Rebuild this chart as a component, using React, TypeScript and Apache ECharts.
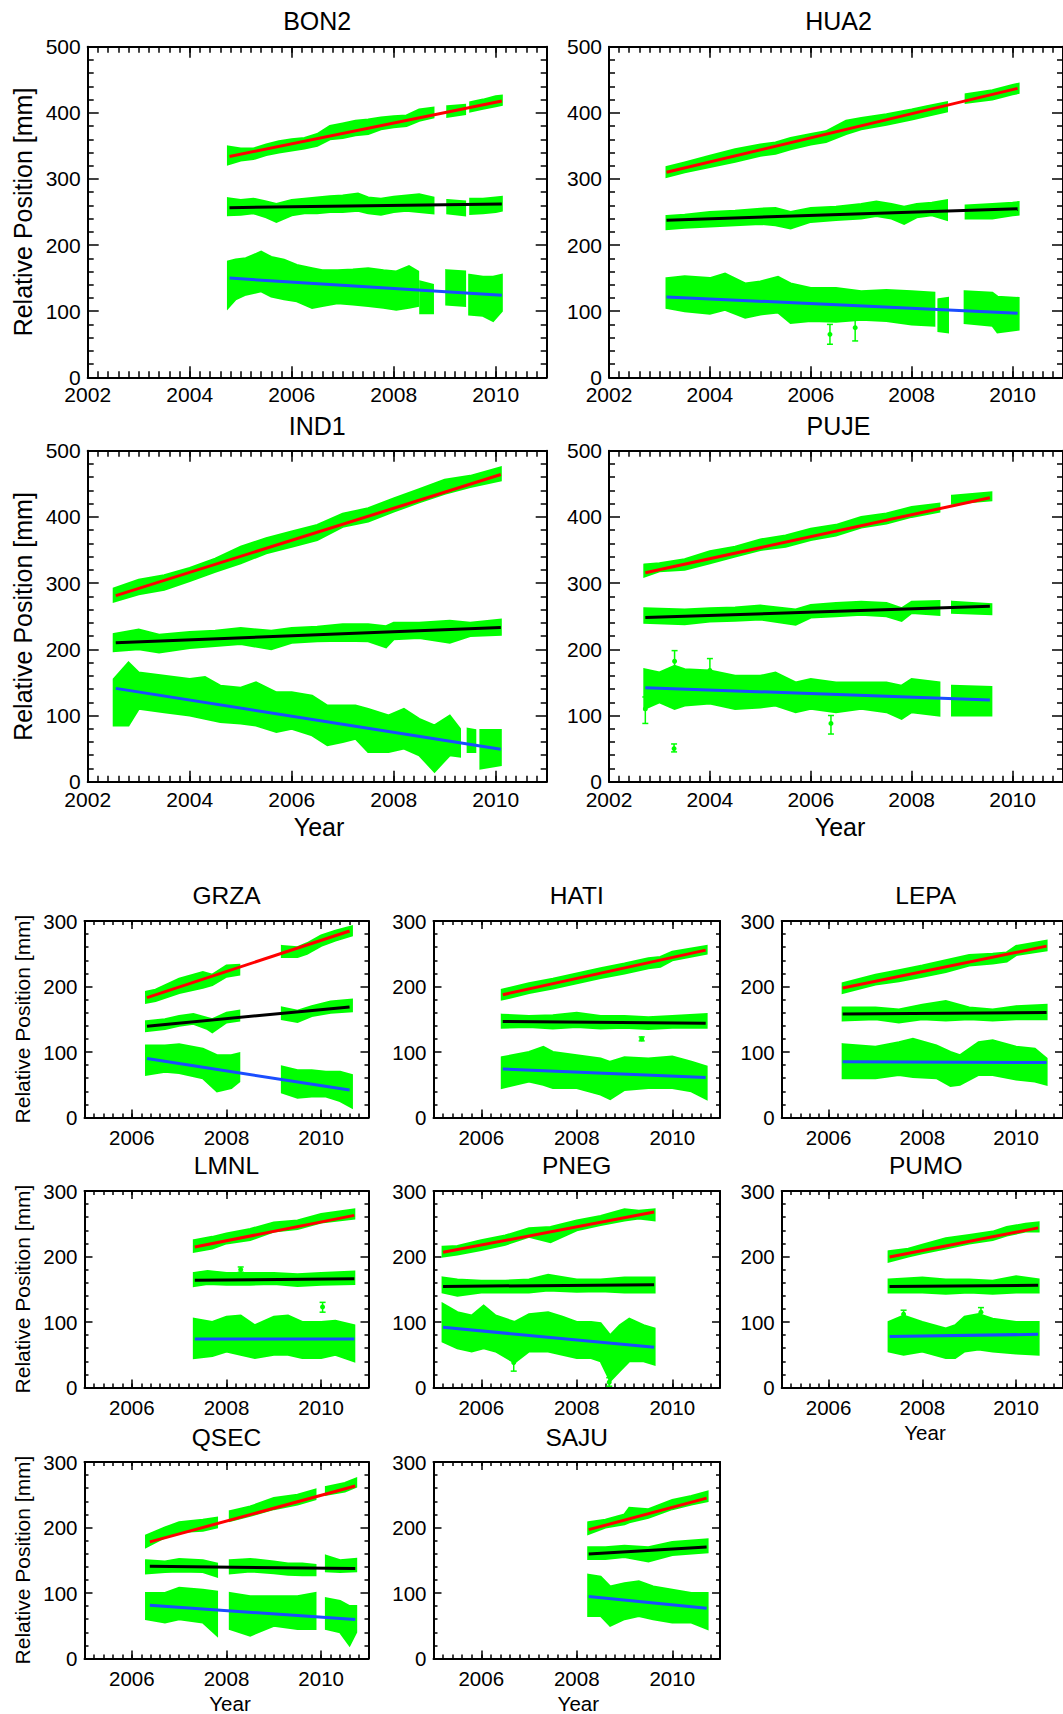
import React, { useEffect, useRef } from 'react';
import * as echarts from 'echarts';

type Tri = number[] | null;

// ---------- DATA ----------
// band samples: [year, lower, upper]; null = gap in the record
const BON2_RED: Tri[] = [[2004.75,322,349],[2005.0,328,346],[2005.25,330,346],[2005.5,336,352],[2005.75,340,357],[2006.0,343,360],[2006.25,346,362],[2006.5,350,368],[2006.75,360,380],[2007.0,362,384],[2007.25,366,388],[2007.5,368,390],[2007.75,375,393],[2008.0,378,395],[2008.25,380,396],[2008.5,388,405],[2008.78,393,408],null,[2009.05,394,410],[2009.4,398,412],null,[2009.5,402,416],[2009.75,406,420],[2010.0,410,425],[2010.12,412,426]];
const BON2_BLACK: Tri[] = [[2004.75,245,271],[2005.0,246,268],[2005.25,248,270],[2005.5,242,266],[2005.7,235,262],[2006.0,245,268],[2006.25,248,270],[2006.5,248,272],[2006.75,250,274],[2007.0,250,275],[2007.3,252,278],[2007.5,248,272],[2007.75,246,270],[2008.0,250,273],[2008.25,252,275],[2008.5,250,277],[2008.78,248,272],null,[2009.05,248,268],[2009.4,245,266],null,[2009.5,247,270],[2009.75,248,270],[2010.0,250,272],[2010.12,252,273]];
const BON2_BLUE: Tri[] = [[2004.75,105,175],[2004.9,118,178],[2005.1,125,180],[2005.4,130,190],[2005.6,122,182],[2005.85,118,178],[2006.1,115,170],[2006.4,105,165],[2006.6,108,162],[2006.9,112,162],[2007.2,110,163],[2007.5,108,165],[2007.8,105,162],[2008.05,102,160],[2008.3,105,168],[2008.48,108,160],null,[2008.52,97,145],[2008.77,97,140],null,[2009.03,110,162],[2009.4,108,160],null,[2009.48,95,155],[2009.75,93,152],[2009.95,85,152],[2010.12,100,155]];

const HUA2_RED: Tri[] = [[2003.14,303,318],[2003.5,310,325],[2004.0,318,335],[2004.5,326,345],[2005.0,335,352],[2005.3,338,355],[2005.6,345,362],[2006.0,352,368],[2006.3,356,372],[2006.7,368,388],[2007.0,375,392],[2007.5,382,398],[2008.0,390,405],[2008.3,395,410],[2008.7,402,416],null,[2009.07,415,428],[2009.6,420,434],[2010.0,428,442],[2010.12,430,444]];
const HUA2_BLACK: Tri[] = [[2003.14,224,244],[2003.5,226,246],[2004.0,228,250],[2004.5,230,252],[2005.0,232,255],[2005.3,230,256],[2005.6,225,250],[2006.0,235,256],[2006.5,238,258],[2007.0,240,262],[2007.3,244,266],[2007.6,240,262],[2007.85,232,258],[2008.1,242,262],[2008.4,245,264],[2008.7,238,268],null,[2009.07,240,260],[2009.6,240,262],[2010.0,245,264],[2010.12,246,265]];
const HUA2_BLUE: Tri[] = [[2003.14,105,150],[2003.5,100,153],[2004.0,96,150],[2004.3,102,157],[2004.7,90,142],[2005.0,95,145],[2005.35,98,152],[2005.6,82,142],[2006.0,85,135],[2006.5,84,135],[2007.0,87,130],[2007.5,85,132],[2008.0,80,130],[2008.45,78,128],null,[2008.53,70,118],[2008.72,68,120],null,[2009.05,82,130],[2009.6,78,128],[2009.7,68,122],[2010.12,72,120]];

const IND1_RED: Tri[] = [[2002.51,272,292],[2003.0,283,305],[2003.5,290,312],[2004.0,303,323],[2004.5,317,337],[2005.0,330,355],[2005.5,345,368],[2006.0,355,378],[2006.5,365,388],[2007.0,385,405],[2007.5,393,413],[2008.0,408,428],[2008.5,422,442],[2009.0,435,456],[2009.5,445,462],[2010.1,455,475]];
const IND1_BLACK: Tri[] = [[2002.51,197,223],[2003.0,200,230],[2003.4,195,222],[2004.0,202,226],[2004.5,205,228],[2005.0,208,232],[2005.6,200,228],[2006.0,210,232],[2006.5,212,234],[2007.0,213,238],[2007.5,212,238],[2007.85,203,235],[2008.0,215,240],[2008.5,217,240],[2009.1,210,243],[2009.5,220,240],[2010.1,222,245]];
const IND1_BLUE: Tri[] = [[2002.51,85,155],[2002.8,85,180],[2003.0,110,165],[2003.5,105,160],[2004.0,100,155],[2004.3,95,158],[2004.6,90,145],[2005.0,88,142],[2005.3,85,150],[2005.7,75,135],[2006.0,80,135],[2006.4,70,130],[2006.7,55,115],[2007.0,60,115],[2007.25,65,115],[2007.5,45,110],[2007.9,45,100],[2008.2,50,110],[2008.5,40,95],[2008.8,15,85],[2009.1,40,100],[2009.3,38,80],null,[2009.45,45,80],[2009.6,45,78],null,[2009.7,20,78],[2010.1,25,78]];

const PUJE_RED: Tri[] = [[2002.7,310,328],[2003.0,318,330],[2003.5,320,336],[2004.0,330,348],[2004.5,340,355],[2005.0,350,366],[2005.5,355,372],[2006.0,365,382],[2006.5,372,388],[2007.0,384,400],[2007.5,390,405],[2008.0,400,415],[2008.55,408,420],null,[2008.8,420,432],[2009.58,425,437]];
const PUJE_BLACK: Tri[] = [[2002.7,240,262],[2003.5,238,260],[2004.0,242,262],[2004.5,243,263],[2005.0,245,266],[2005.7,237,260],[2006.0,248,267],[2006.5,250,270],[2007.0,252,272],[2007.5,250,270],[2007.8,243,262],[2008.0,255,272],[2008.55,252,273],null,[2008.8,255,272],[2009.58,253,268]];
const PUJE_BLUE: Tri[] = [[2002.7,110,170],[2003.0,120,165],[2003.3,110,175],[2003.5,115,170],[2004.0,118,168],[2004.5,110,160],[2005.0,112,160],[2005.3,115,165],[2005.7,105,150],[2006.0,110,155],[2006.5,105,150],[2007.0,110,150],[2007.5,105,150],[2007.8,95,145],[2008.0,105,155],[2008.55,100,150],null,[2008.8,100,145],[2009.58,100,143]];

const GRZA_RED: Tri[] = [[2006.3,175,192],[2006.5,178,195],[2007.0,190,212],[2007.5,198,222],[2007.7,202,218],[2008.0,215,232],[2008.27,218,233],null,[2009.17,245,262],[2009.5,245,260],[2009.7,250,266],[2010.0,262,278],[2010.3,270,285],[2010.65,278,292]];
const GRZA_BLACK: Tri[] = [[2006.3,132,147],[2006.7,135,150],[2007.0,140,155],[2007.3,143,158],[2007.6,135,152],[2007.7,130,150],[2008.0,145,160],[2008.27,148,163],null,[2009.17,150,168],[2009.5,146,163],[2009.8,155,170],[2010.2,160,177],[2010.65,162,180]];
const GRZA_BLUE: Tri[] = [[2006.3,65,110],[2006.7,70,110],[2007.0,68,112],[2007.5,60,105],[2007.8,40,95],[2008.1,45,95],[2008.27,55,98],null,[2009.17,38,78],[2009.5,30,72],[2009.8,32,72],[2010.1,32,70],[2010.4,25,70],[2010.65,15,65]];

const HATI_RED: Tri[] = [[2006.43,180,195],[2007.0,190,205],[2007.5,197,212],[2008.0,205,220],[2008.5,213,228],[2009.0,220,235],[2009.5,228,243],[2009.75,230,245],[2010.0,240,253],[2010.72,250,262]];
const HATI_BLACK: Tri[] = [[2006.43,137,157],[2007.0,138,155],[2007.5,136,156],[2008.0,138,160],[2008.5,136,155],[2009.0,137,155],[2009.5,135,153],[2010.0,137,155],[2010.72,137,158]];
const HATI_BLUE: Tri[] = [[2006.43,45,92],[2007.0,55,100],[2007.3,50,108],[2007.5,45,100],[2008.0,45,95],[2008.5,35,90],[2008.7,28,85],[2009.0,42,92],[2009.5,45,90],[2010.0,45,93],[2010.4,40,85],[2010.72,28,78]];

const LEPA_RED: Tri[] = [[2006.3,190,205],[2007.0,203,218],[2007.5,208,225],[2008.0,215,232],[2008.5,222,240],[2009.0,232,248],[2009.5,235,250],[2009.8,238,252],[2010.0,248,262],[2010.65,255,270]];
const LEPA_BLACK: Tri[] = [[2006.3,148,168],[2007.0,150,168],[2007.5,145,165],[2008.0,150,172],[2008.5,148,178],[2009.0,150,168],[2009.5,148,165],[2010.0,150,170],[2010.65,150,172]];
const LEPA_BLUE: Tri[] = [[2006.3,60,112],[2007.0,60,108],[2007.5,65,115],[2007.8,62,120],[2008.3,60,110],[2008.6,48,100],[2008.8,50,95],[2009.2,65,115],[2009.5,65,118],[2010.0,58,108],[2010.4,55,105],[2010.65,50,90]];

const LMNL_RED: Tri[] = [[2007.31,207,225],[2007.7,212,230],[2008.0,220,235],[2008.5,225,242],[2009.0,238,252],[2009.5,242,255],[2010.0,252,265],[2010.7,258,272]];
const LMNL_BLACK: Tri[] = [[2007.31,155,175],[2007.6,158,178],[2008.0,157,175],[2008.5,157,175],[2009.0,158,175],[2009.5,155,173],[2010.0,157,175],[2010.7,158,177]];
const LMNL_BLUE: Tri[] = [[2007.31,45,105],[2007.7,48,100],[2008.0,55,108],[2008.3,50,110],[2008.6,45,95],[2009.0,50,108],[2009.3,50,110],[2009.6,45,100],[2010.0,45,100],[2010.3,50,102],[2010.7,40,95]];

const PNEG_RED: Tri[] = [[2005.19,200,215],[2005.5,203,216],[2006.0,210,225],[2006.5,218,232],[2007.0,230,243],[2007.45,222,245],[2008.0,240,255],[2008.5,248,262],[2009.0,255,272],[2009.3,258,270],[2009.63,255,272]];
const PNEG_BLACK: Tri[] = [[2005.19,145,168],[2005.5,140,165],[2006.0,145,163],[2006.5,145,163],[2007.0,145,165],[2007.4,148,172],[2008.0,146,165],[2008.5,147,165],[2009.0,145,168],[2009.63,145,168]];
const PNEG_BLUE: Tri[] = [[2005.19,70,128],[2005.5,60,115],[2005.8,55,110],[2006.05,60,125],[2006.3,55,110],[2006.7,38,100],[2007.0,55,112],[2007.4,55,115],[2007.7,50,108],[2008.0,45,100],[2008.3,45,100],[2008.5,40,98],[2008.7,10,80],[2008.9,25,95],[2009.1,40,105],[2009.4,40,95],[2009.63,35,90]];

const PUMO_RED: Tri[] = [[2007.28,192,208],[2007.7,200,212],[2008.0,205,218],[2008.5,212,228],[2009.0,220,233],[2009.5,225,238],[2009.8,232,245],[2010.2,238,250],[2010.48,238,252]];
const PUMO_BLACK: Tri[] = [[2007.28,145,165],[2008.0,145,168],[2008.5,143,165],[2009.0,145,165],[2009.5,143,163],[2010.0,145,170],[2010.48,145,165]];
const PUMO_BLUE: Tri[] = [[2007.28,55,100],[2007.6,50,110],[2008.0,55,100],[2008.5,45,90],[2008.7,45,95],[2008.9,55,108],[2009.2,58,112],[2009.5,55,105],[2010.0,52,100],[2010.48,50,100]];

const QSEC_RED: Tri[] = [[2006.3,170,188],[2006.7,185,200],[2007.0,193,208],[2007.5,195,212],[2007.8,200,215],null,[2008.07,210,225],[2008.5,218,232],[2009.0,228,245],[2009.5,235,250],[2009.88,243,258],null,[2010.1,250,262],[2010.5,255,268],[2010.74,262,275]];
const QSEC_BLACK: Tri[] = [[2006.3,130,150],[2006.7,132,148],[2007.0,133,152],[2007.5,132,150],[2007.8,125,145],null,[2008.07,130,150],[2008.5,133,152],[2009.0,130,148],[2009.3,128,145],[2009.6,127,145],[2009.88,127,143],null,[2010.1,133,157],[2010.4,132,150],[2010.74,133,152]];
const QSEC_BLUE: Tri[] = [[2006.3,60,100],[2006.7,55,100],[2007.0,60,108],[2007.5,55,105],[2007.8,35,102],null,[2008.07,45,100],[2008.5,35,95],[2009.0,50,95],[2009.5,45,95],[2009.88,45,100],null,[2010.1,45,92],[2010.4,40,88],[2010.6,20,80],[2010.74,40,80]];

const SAJU_RED: Tri[] = [[2008.24,190,208],[2008.6,200,212],[2009.0,205,220],[2009.1,208,230],[2009.5,215,228],[2010.0,228,242],[2010.4,235,248],[2010.74,240,255]];
const SAJU_BLACK: Tri[] = [[2008.24,152,170],[2008.6,152,170],[2009.0,155,172],[2009.5,148,170],[2010.0,158,178],[2010.74,162,182]];
const SAJU_BLUE: Tri[] = [[2008.24,65,128],[2008.5,65,125],[2008.7,50,110],[2009.0,60,115],[2009.3,65,118],[2009.6,60,110],[2010.0,55,105],[2010.4,55,100],[2010.74,45,100]];

// isolated points with error bars: [year, value, lower, upper]
const HUA2_OUT = [[2006.38,65,50,80],[2006.88,75,55,90]];
const PUJE_OUT = [[2003.29,50,45,57],[2006.4,88,72,100],[2002.72,110,88,128],[2003.3,182,168,198],[2004.0,168,150,186]];
const HATI_OUT = [[2009.36,120,117,123]];
const LMNL_OUT = [[2010.03,123,115,130],[2008.3,180,176,184]];
const PNEG_OUT = [[2006.68,38,25,50],[2008.68,8,2,15]];
const PUMO_OUT = [[2007.6,112,105,118],[2009.25,115,108,122]];

// linear trends: [[startYear, startValue], [endYear, endValue]] for red, black, blue
const BON2_TREND = [[[2004.78,334],[2010.12,418]],[[2004.78,256.5],[2010.12,262]],[[2004.78,150],[2010.12,124]]];
const HUA2_TREND = [[[2003.14,310],[2010.1,437]],[[2003.14,237.5],[2010.1,255]],[[2003.14,121.5],[2010.1,97]]];
const IND1_TREND = [[[2002.55,281],[2010.1,464]],[[2002.55,210],[2010.1,233]],[[2002.55,141],[2010.1,49]]];
const PUJE_TREND = [[[2002.72,315.7],[2009.55,429]],[[2002.72,248],[2009.55,265]],[[2002.72,142],[2009.55,123.5]]];
const GRZA_TREND = [[[2006.32,183],[2010.6,284.7]],[[2006.32,139.3],[2010.6,168.8]],[[2006.32,90],[2010.6,42]]];
const HATI_TREND = [[[2006.45,187.5],[2010.7,255.5]],[[2006.45,146.7],[2010.7,144]],[[2006.45,74],[2010.7,61]]];
const LEPA_TREND = [[[2006.3,197.8],[2010.65,261.6]],[[2006.3,158],[2010.65,160.4]],[[2006.3,85.3],[2010.65,83.8]]];
const LMNL_TREND = [[[2007.33,214.5],[2010.7,262.8]],[[2007.33,163.7],[2010.7,166.2]],[[2007.33,74.2],[2010.7,74.2]]];
const PNEG_TREND = [[[2005.2,206.4],[2009.62,267.8]],[[2005.2,154.3],[2009.62,157]],[[2005.2,92],[2009.62,61.3]]];
const PUMO_TREND = [[[2007.3,199.3],[2010.47,243.7]],[[2007.3,154.3],[2010.47,156]],[[2007.3,77.7],[2010.47,81.2]]];
const QSEC_TREND = [[[2006.38,178],[2010.72,263.3]],[[2006.38,140.8],[2010.72,137.3]],[[2006.38,81.3],[2010.72,59.5]]];
const SAJU_TREND = [[[2008.25,196.7],[2010.72,244.8]],[[2008.25,159.4],[2010.72,170.2]],[[2008.25,94.5],[2010.72,76.6]]];

const TOP_X_LABELS = [2002, 2004, 2006, 2008, 2010];
const BOTTOM_X_LABELS = [2006, 2008, 2010];

const STATIONS = [
  { name: 'BON2', bands: [BON2_RED, BON2_BLACK, BON2_BLUE], trend: BON2_TREND, out: [] as number[][] },
  { name: 'HUA2', bands: [HUA2_RED, HUA2_BLACK, HUA2_BLUE], trend: HUA2_TREND, out: HUA2_OUT },
  { name: 'IND1', bands: [IND1_RED, IND1_BLACK, IND1_BLUE], trend: IND1_TREND, out: [] as number[][] },
  { name: 'PUJE', bands: [PUJE_RED, PUJE_BLACK, PUJE_BLUE], trend: PUJE_TREND, out: PUJE_OUT },
  { name: 'GRZA', bands: [GRZA_RED, GRZA_BLACK, GRZA_BLUE], trend: GRZA_TREND, out: [] as number[][] },
  { name: 'HATI', bands: [HATI_RED, HATI_BLACK, HATI_BLUE], trend: HATI_TREND, out: HATI_OUT },
  { name: 'LEPA', bands: [LEPA_RED, LEPA_BLACK, LEPA_BLUE], trend: LEPA_TREND, out: [] as number[][] },
  { name: 'LMNL', bands: [LMNL_RED, LMNL_BLACK, LMNL_BLUE], trend: LMNL_TREND, out: LMNL_OUT },
  { name: 'PNEG', bands: [PNEG_RED, PNEG_BLACK, PNEG_BLUE], trend: PNEG_TREND, out: PNEG_OUT },
  { name: 'PUMO', bands: [PUMO_RED, PUMO_BLACK, PUMO_BLUE], trend: PUMO_TREND, out: PUMO_OUT },
  { name: 'QSEC', bands: [QSEC_RED, QSEC_BLACK, QSEC_BLUE], trend: QSEC_TREND, out: [] as number[][] },
  { name: 'SAJU', bands: [SAJU_RED, SAJU_BLACK, SAJU_BLUE], trend: SAJU_TREND, out: [] as number[][] },
];

// ---------- LAYOUT ----------
const TOP = { xMin: 2002, xMax: 2011, yMax: 500, yMinor: 5, major: 11, minor: 6, font: 21, tf: 25, lm: 7 };
const BOT = { xMin: 2005, xMax: 2011, yMax: 300, yMinor: 5, major: 8, minor: 4, font: 20.5, tf: 24.5, lm: 9 };
const LAYOUT = [
  { ...TOP, left: 87.7, top: 46.7, width: 459, height: 330.6, tx: 317.2, ty: 20.5 },
  { ...TOP, left: 609, top: 46.7, width: 459, height: 330.6, tx: 838.5, ty: 20.5 },
  { ...TOP, left: 87.7, top: 450.7, width: 459, height: 331, tx: 317.2, ty: 425.5 },
  { ...TOP, left: 609, top: 450.7, width: 459, height: 331, tx: 838.5, ty: 425.5 },
  { ...BOT, left: 84.5, top: 921, width: 284, height: 196.5, tx: 226.5, ty: 895.5 },
  { ...BOT, left: 433.5, top: 921, width: 286.5, height: 196.5, tx: 576.7, ty: 895.5 },
  { ...BOT, left: 781.7, top: 921, width: 288, height: 196.5, tx: 925.7, ty: 895.5 },
  { ...BOT, left: 84.5, top: 1191, width: 284, height: 196.5, tx: 226.5, ty: 1165.5 },
  { ...BOT, left: 433.5, top: 1191, width: 286.5, height: 196.5, tx: 576.7, ty: 1165.5 },
  { ...BOT, left: 781.7, top: 1191, width: 288, height: 196.5, tx: 925.7, ty: 1165.5 },
  { ...BOT, left: 84.5, top: 1462, width: 284, height: 196.5, tx: 226.5, ty: 1437 },
  { ...BOT, left: 433.5, top: 1462, width: 286.5, height: 196.5, tx: 576.7, ty: 1437 },
];
const YEAR_LABELS = [
  { x: 319, y: 827, size: 25 },
  { x: 840, y: 827, size: 25 },
  { x: 925, y: 1432, size: 20.5 },
  { x: 230, y: 1703, size: 20.5 },
  { x: 578.3, y: 1703, size: 20.5 },
];
const YNAME_LABELS = [
  { x: 22.8, y: 212, size: 25 },
  { x: 22.8, y: 616.5, size: 25 },
  { x: 22.5, y: 1019, size: 21 },
  { x: 22.5, y: 1289, size: 21 },
  { x: 22.5, y: 1560, size: 21 },
];

const FONT = "'Liberation Sans', Arial, Helvetica, sans-serif";
const GREEN = '#00ff00';
const TREND_COLORS = ['#ff0000', '#000000', '#1a4dff'];

function bandSeries(pts: Tri[], xi: number, yi: number) {
  const segs: number[][][] = [];
  let cur: number[][] = [];
  pts.forEach((p) => {
    if (p == null) { if (cur.length) segs.push(cur); cur = []; }
    else cur.push(p);
  });
  if (cur.length) segs.push(cur);
  return {
    type: 'custom', xAxisIndex: xi, yAxisIndex: yi, silent: true, z: 2,
    data: segs.map((s) => [s[0][0], s[0][1]]),
    encode: { x: 0, y: 1 },
    renderItem: (params: any, api: any) => {
      const s = segs[params.dataIndex];
      const up = s.map((p) => api.coord([p[0], p[2]]));
      const lo = s.map((p) => api.coord([p[0], p[1]])).reverse();
      return { type: 'polygon', shape: { points: up.concat(lo) }, style: { fill: GREEN, stroke: GREEN, lineWidth: 2 } };
    },
  };
}

function outlierSeries(outs: number[][], xi: number, yi: number) {
  return {
    type: 'custom', xAxisIndex: xi, yAxisIndex: yi, silent: true, z: 3,
    data: outs.map((o) => [o[0], o[1]]),
    encode: { x: 0, y: 1 },
    renderItem: (params: any, api: any) => {
      const o = outs[params.dataIndex];
      const c = api.coord([o[0], o[1]]);
      const a = api.coord([o[0], o[2]]);
      const b = api.coord([o[0], o[3]]);
      const st = { stroke: GREEN, lineWidth: 1.5 };
      return {
        type: 'group',
        children: [
          { type: 'line', shape: { x1: a[0], y1: a[1], x2: b[0], y2: b[1] }, style: st },
          { type: 'line', shape: { x1: a[0] - 3, y1: a[1], x2: a[0] + 3, y2: a[1] }, style: st },
          { type: 'line', shape: { x1: b[0] - 3, y1: b[1], x2: b[0] + 3, y2: b[1] }, style: st },
          { type: 'circle', shape: { cx: c[0], cy: c[1], r: 2.5 }, style: { fill: GREEN } },
        ],
      };
    },
  };
}

function buildOption() {
  const grid: any[] = [];
  const xAxis: any[] = [];
  const yAxis: any[] = [];
  const series: any[] = [];
  const graphic: any[] = [];
  const axisLine = { show: true, onZero: false, lineStyle: { color: '#000', width: 2 } };
  const tickLine = { color: '#000', width: 1.5 };
  const plain = (v: number) => String(Math.round(v));

  STATIONS.forEach((st, i) => {
    const L = LAYOUT[i];
    grid.push({ left: L.left, top: L.top, width: L.width, height: L.height });
    const majors = L.yMax === 500 ? TOP_X_LABELS : BOTTOM_X_LABELS;
    const xMain = xAxis.length;
    ['bottom', 'top'].forEach((pos) => {
      xAxis.push({
        gridIndex: i, type: 'value', position: pos, min: L.xMin, max: L.xMax,
        axisLine,
        axisTick: { show: true, inside: true, length: L.major, customValues: majors, lineStyle: tickLine },
        axisLabel: { show: pos === 'bottom', customValues: majors, formatter: plain, fontSize: L.font, fontFamily: FONT, color: '#000', margin: L.lm },
        splitLine: { show: false },
      });
      xAxis.push({
        gridIndex: i, type: 'value', position: pos, min: L.xMin, max: L.xMax, interval: 1,
        axisLine: { show: false, onZero: false },
        axisTick: { show: true, inside: true, length: L.minor, lineStyle: tickLine },
        minorTick: { show: true, splitNumber: 5, length: L.minor, lineStyle: tickLine },
        axisLabel: { show: false },
        splitLine: { show: false },
      });
    });
    const yMain = yAxis.length;
    ['left', 'right'].forEach((pos) => {
      yAxis.push({
        gridIndex: i, type: 'value', position: pos, min: 0, max: L.yMax, interval: 100,
        axisLine,
        axisTick: { show: true, inside: true, length: L.major, lineStyle: tickLine },
        minorTick: { show: true, splitNumber: L.yMinor, length: L.minor, lineStyle: tickLine },
        axisLabel: { show: pos === 'left', formatter: plain, fontSize: L.font, fontFamily: FONT, color: '#000', margin: 7 },
        splitLine: { show: false },
      });
    });
    st.bands.forEach((b) => series.push(bandSeries(b, xMain, yMain)));
    if (st.out.length) series.push(outlierSeries(st.out, xMain, yMain));
    st.trend.forEach((t, k) => {
      series.push({
        type: 'line', xAxisIndex: xMain, yAxisIndex: yMain, data: t, symbol: 'none', silent: true, z: 5,
        lineStyle: { color: TREND_COLORS[k], width: 3 },
      });
    });
    graphic.push({
      type: 'text', x: L.tx, y: L.ty,
      style: { text: st.name, fontSize: L.tf, fontFamily: FONT, fill: '#000', align: 'center', verticalAlign: 'middle' },
    });
  });

  YEAR_LABELS.forEach((y) => graphic.push({
    type: 'text', x: y.x, y: y.y,
    style: { text: 'Year', fontSize: y.size, fontFamily: FONT, fill: '#000', align: 'center', verticalAlign: 'middle' },
  }));
  YNAME_LABELS.forEach((y) => graphic.push({
    type: 'text', x: y.x, y: y.y, rotation: Math.PI / 2,
    style: { text: 'Relative Position [mm]', fontSize: y.size, fontFamily: FONT, fill: '#000', align: 'center', verticalAlign: 'middle' },
  }));

  return { animation: false, backgroundColor: '#fff', grid, xAxis, yAxis, series, graphic };
}

export default function App() {
  const ref = useRef<HTMLDivElement>(null);
  useEffect(() => {
    if (!ref.current) return;
    const chart = echarts.init(ref.current, null, { renderer: 'svg', width: 1063, height: 1714 });
    chart.setOption(buildOption() as any);
    return () => chart.dispose();
  }, []);
  return <div ref={ref} style={{ position: 'absolute', left: 0, top: 0, width: 1063, height: 1714 }} />;
}
